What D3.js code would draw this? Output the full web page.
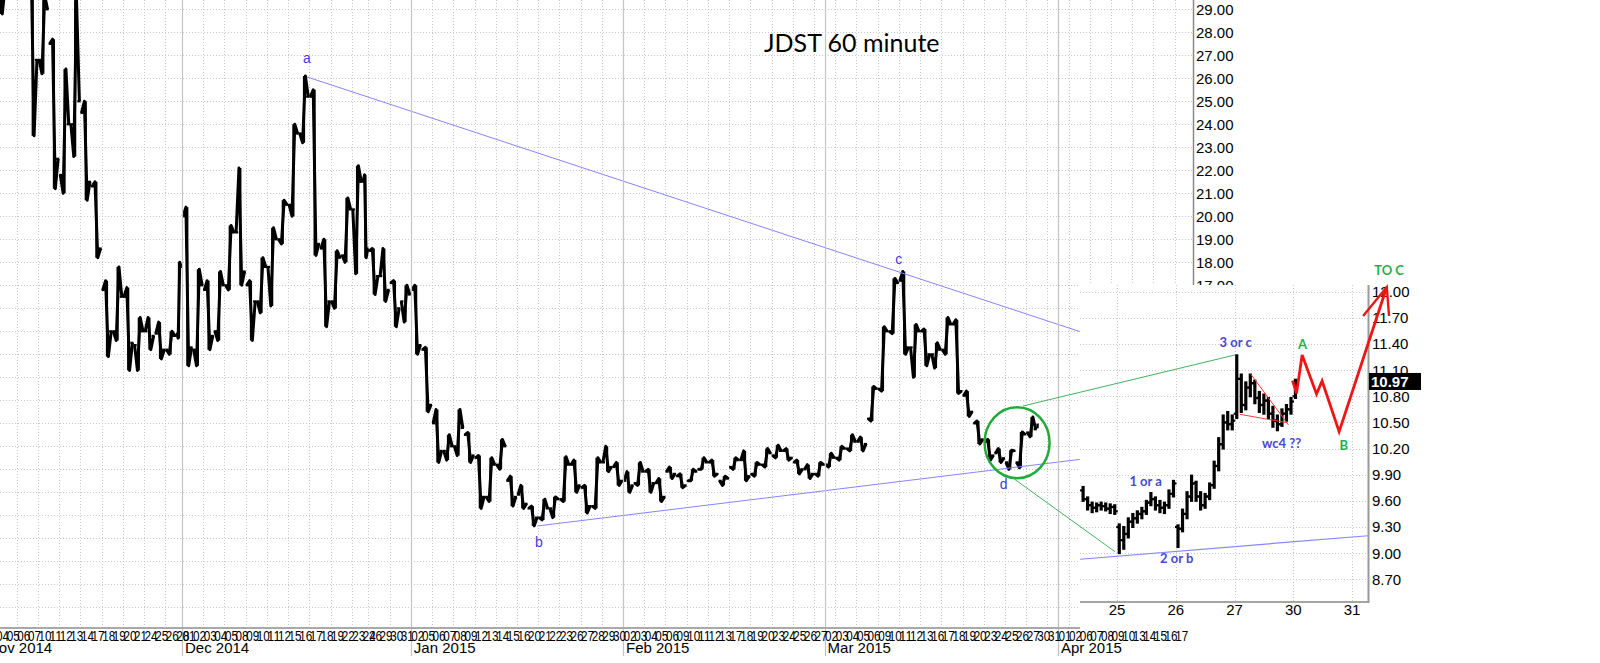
<!DOCTYPE html>
<html><head><meta charset="utf-8">
<script src="https://cdn.jsdelivr.net/npm/d3@7/dist/d3.min.js"></script>
<style>
html,body{margin:0;padding:0;background:#fff;overflow:hidden}
svg{display:block}
</style></head><body>
<svg id="chart" width="1600" height="663"></svg>
<script>
// ================= DATA =================
// trading days (tick labels of the main time axis)
const novDays = [3,4,5,6,7,10,11,12,13,14,17,18,19,20,21,24,25,26,28];
const decDays = [1,2,3,4,5,8,9,10,11,12,15,16,17,18,19,22,23,24,26,29,30,31];
const janDays = [2,5,6,7,8,9,12,13,14,15,16,20,21,22,23,26,27,28,29,30];
const febDays = [2,3,4,5,6,9,10,11,12,13,17,18,19,20,23,24,25,26,27];
const marDays = [2,3,4,5,6,9,10,11,12,13,16,17,18,19,20,23,24,25,26,27,30,31];
const aprDays = [1,2,6,7,8,9,10,13,14,15,16,17];
const monthLabels = ["Nov 2014","Dec 2014","Jan 2015","Feb 2015","Mar 2015","Apr 2015"];
const halfDays = [[0,28],[1,24]];          // [month index, day] shortened sessions
const mainPriceTicks = [17,18,19,20,21,22,23,24,25,26,27,28,29];

// daily [open, high, low, close]
const novBars = [
 [33.0,34.0,31.5,32.0],[31.5,32.0,28.8,30.0],[30.0,31.5,29.5,31.0],[31.0,32.5,29.8,30.5],
 [29.5,30.5,23.5,26.8],[26.8,29.6,26.2,29.0],[27.5,27.7,21.2,22.5],[21.8,26.4,21.0,24.0],
 [24.0,29.4,22.6,25.0],[24.5,25.0,20.7,21.5],[21.3,21.5,18.2,18.6],[16.8,17.2,13.9,15.0],
 [15.0,17.8,14.6,16.5],[16.5,16.9,13.3,14.5],[14.4,15.6,13.3,15.0],[15.0,15.6,14.2,14.8],
 [14.9,15.4,13.8,14.2],[14.2,15.0,14.0,14.8],[14.9,18.0,14.7,17.8]];
const decBars = [
 [20.0,20.4,13.5,14.3],[14.2,17.7,13.5,17.0],[16.8,17.2,14.2,14.8],[15.0,17.6,14.6,17.0],
 [17.0,19.6,16.8,19.3],[19.3,22.1,17.0,17.6],[17.0,17.2,14.6,16.3],[16.3,18.2,15.8,17.8],
 [17.8,19.5,16.1,19.0],[19.0,20.7,18.8,20.5],[20.5,24.0,20.0,23.6],[23.6,26.1,23.2,25.2],
 [25.2,25.5,18.3,18.8],[18.6,19.0,15.2,16.3],[16.3,18.5,16.0,18.2],[18.3,20.8,18.0,20.3],
 [20.3,22.2,17.5,21.5],[21.5,21.8,18.2,18.6],[18.5,18.6,16.6,17.4],[17.4,18.6,16.3,16.8],
 [17.1,17.2,15.2,16.0],[16.3,17.0,15.4,16.6]];
const janBars = [
 [16.8,17.0,14.0,14.4],[14.2,14.3,11.5,11.8],[11.0,11.6,9.3,9.8],[9.8,10.5,9.4,10.0],
 [10.0,11.6,9.6,10.8],[10.5,10.6,9.3,9.6],[9.5,9.6,7.3,7.8],[7.8,9.5,7.6,9.2],
 [9.2,10.3,9.0,10.0],[8.5,8.7,7.4,7.8],[7.9,8.3,7.3,7.5],[7.3,7.4,6.54,6.9],
 [6.9,7.7,6.8,7.3],[7.3,7.8,6.9,7.7],[7.7,9.55,7.6,9.2],[9.2,9.4,8.0,8.3],
 [8.2,8.3,7.1,7.4],[7.4,9.5,7.3,9.3],[9.3,10.0,8.9,9.1],[9.1,9.3,8.3,8.5]];
const febBars = [
 [8.5,8.9,8.0,8.3],[8.4,9.3,8.3,8.9],[8.9,9.0,8.0,8.4],[8.4,8.6,7.6,7.8],
 [8.9,9.1,8.6,8.8],[8.7,8.8,8.2,8.3],[8.5,9.0,8.5,8.9],[9.0,9.5,9.0,9.3],
 [9.3,9.4,8.7,8.8],[8.5,8.7,8.3,8.6],[9.1,9.5,9.0,9.4],[9.4,9.8,8.5,8.7],
 [8.8,9.3,8.7,9.2],[9.2,9.9,9.1,9.7],[9.6,10.05,9.5,9.8],[9.8,9.9,9.4,9.5],
 [9.3,9.4,8.8,9.0],[9.0,9.2,8.6,8.8],[8.8,9.3,8.7,9.2]];
const marBars = [
 [9.2,9.7,9.1,9.5],[9.5,10.0,9.4,9.9],[9.9,10.5,9.8,10.2],[10.2,10.4,9.8,10.1],
 [11.2,12.6,11.1,12.5],[12.5,15.2,12.4,15.0],[15.0,17.3,14.9,17.1],[17.2,17.6,14.0,14.3],
 [14.3,15.3,13.0,15.0],[15.0,15.1,13.5,14.0],[14.0,14.5,13.4,14.2],[14.2,15.6,14.0,15.3],
 [15.3,15.5,12.3,12.4],[12.2,12.4,11.3,11.5],[11.0,11.1,10.1,10.3],[10.2,10.3,9.4,9.6],
 [9.7,9.9,9.3,9.48],[9.3,9.83,9.0,9.8],[9.3,10.62,9.07,10.52],[10.6,11.27,10.41,10.74],
 [10.8,10.99,10.78,10.97]];
const lastDayBarsDrawn = 1;   // only the first hour of Mar 30 is on the chart

// inset (Mar 24 - Mar 30), half-hour [open, high, low, close]
const insetDayLabels = ["25","26","27","30","31"];
const insetPriceTicks = [8.70,9.00,9.30,9.60,9.90,10.20,10.50,10.80,11.10,11.40,11.70,12.00];
const insetMar24 = [
 [9.72,9.76,9.60,9.62],[9.62,9.64,9.50,9.55],[9.55,9.58,9.47,9.52],[9.52,9.57,9.48,9.55],
 [9.55,9.58,9.50,9.54],[9.54,9.57,9.49,9.51],[9.51,9.56,9.46,9.53],[9.53,9.55,9.45,9.48]];
const insetMar25 = [
 [9.30,9.33,9.00,9.15],[9.15,9.30,9.05,9.22],[9.22,9.40,9.18,9.36],[9.36,9.45,9.30,9.40],
 [9.40,9.48,9.35,9.45],[9.45,9.52,9.40,9.48],[9.48,9.60,9.45,9.58],[9.58,9.69,9.55,9.62],
 [9.62,9.64,9.50,9.55],[9.55,9.60,9.47,9.52],[9.52,9.58,9.46,9.55],[9.55,9.72,9.52,9.68],
 [9.68,9.83,9.65,9.80]];
const insetMar26 = [
 [9.30,9.32,9.07,9.28],[9.28,9.50,9.25,9.45],[9.45,9.70,9.40,9.65],[9.65,9.89,9.60,9.80],
 [9.80,9.82,9.60,9.65],[9.65,9.70,9.50,9.55],[9.55,9.68,9.52,9.65],[9.65,9.80,9.62,9.78],
 [9.78,10.05,9.75,10.00],[10.00,10.32,9.95,10.25],[10.25,10.58,10.20,10.50],[10.50,10.62,10.42,10.48],
 [10.48,10.58,10.42,10.52]];
const insetMar27 = [
 [10.60,11.27,10.55,11.00],[11.00,11.05,10.62,10.70],[10.70,10.96,10.65,10.90],[10.90,11.05,10.80,10.95],
 [10.95,10.98,10.72,10.78],[10.78,10.85,10.62,10.70],[10.70,10.82,10.60,10.75],[10.75,10.78,10.55,10.60],
 [10.60,10.68,10.45,10.52],[10.52,10.58,10.41,10.48],[10.48,10.65,10.46,10.60],[10.60,10.70,10.52,10.65],
 [10.65,10.78,10.60,10.74]];
const insetMar30 = [[10.80,10.99,10.78,10.97]];
const lastPrice = 10.97;

// annotations: main chart [bar index, price], inset [trading-day offset from Mar 25, price]
const upperTrend = [[212.45,26.06],[603,17.58]];
const lowerTrend = [[364.4,6.535],[722.35,9.43]];
const mainEdgeIdx = 722.35;
const waveLabels = [["a",212.45,26.06,-14],["b",365.5,6.535,21],["c",603,17.58,-8],["d",672.2,9.02,20]];
const circleCenter = [681.0,10.157];
const insetSupport = [[-0.629,8.93],[4.27,9.20]];
const wedgeUpper = [[2.279,11.052],[2.92,10.47]];
const wedgeLower = [[2.092,10.593],[2.896,10.497]];
const projection = [[2.988,10.979],[3.056,10.834],[3.151,11.274],[3.396,10.826],[3.491,10.975],[3.781,10.394],[4.592,12.054]];
const arrowBarbs = [[4.189,11.721],[4.592,12.054],[4.631,11.721]];
const connectUpper = {main:[684.95,11.753], inset:[2.007,11.274]};
const connectLower = {main:[678.2,8.622], inset:[-0.034,9.017]};
const insetBlueLabels = [["3 or c",2.019,11.42],["1 or a",0.488,9.82],["2 or b",1.015,8.936],["wc4 ??",2.801,10.26]];
const insetGreenLabels = [["A",3.158,11.39],["B",3.861,10.24],["TO C",4.631,12.24]];

// ================= DRAW =================
const svg = d3.select("#chart");
const AX = "Liberation Sans, Arial, sans-serif";
svg.append("rect").attr("width",1600).attr("height",663).attr("fill","#fff");

// calendar with bar-index positions
const allMonths = [novDays,decDays,janDays,febDays,marDays,aprDays];
const calendar = [];
let bi = 0;
allMonths.forEach((days,m)=>days.forEach((d,k)=>{
  const n = halfDays.some(h=>h[0]===m&&h[1]===d)?4:7;
  calendar.push({m,d,start:bi,n,monthStart:k===0});
  bi += n;
}));
const decIndex = calendar.findIndex(c=>c.m===1&&c.monthStart);

const xMain = d3.scaleLinear().domain([130,708]).range([182,1058]);
const yMain = d3.scaleLinear().domain([18,29]).range([262.3,9.3]);
const xInset = d3.scaleLinear().domain([0,4]).range([1117,1352]);
const yInset = d3.scaleLinear().domain([8.7,12.0]).range([579.3,291.7]);

const defs = svg.append("defs");
defs.append("clipPath").attr("id","clipMain").append("rect").attr("x",0).attr("y",0).attr("width",1193).attr("height",628);
defs.append("clipPath").attr("id","clipInset").append("rect").attr("x",1080).attr("y",285).attr("width",288).attr("height",317);

const grid = "#c9c9c9";
const mainG = svg.append("g");
const mc = mainG.append("g").attr("clip-path","url(#clipMain)");

// horizontal grid
mc.selectAll("line.hg").data(d3.range(3,31)).enter().append("line")
  .attr("x1",0).attr("x2",1193).attr("y1",d=>Math.round(yMain(d))+0.5).attr("y2",d=>Math.round(yMain(d))+0.5)
  .attr("stroke",grid).attr("stroke-dasharray","1,2");
// vertical grid (every other trading day)
mc.selectAll("line.vg").data(calendar.filter((c,i)=>!c.monthStart && (i-decIndex)%2===0)).enter().append("line")
  .attr("x1",d=>Math.round(xMain(d.start))+0.5).attr("x2",d=>Math.round(xMain(d.start))+0.5)
  .attr("y1",0).attr("y2",628).attr("stroke",grid).attr("stroke-dasharray","1,2");
// month separators
mainG.selectAll("line.ms").data(calendar.filter(c=>c.monthStart)).enter().append("line")
  .attr("x1",d=>Math.round(xMain(d.start))+0.5).attr("x2",d=>Math.round(xMain(d.start))+0.5)
  .attr("y1",0).attr("y2",656).attr("stroke","#c4c4c4").attr("stroke-width",1.2);

// price series
const mainBars = [].concat(novBars,decBars,janBars,febBars,marBars);
const line = d3.line();
const fr = [0.1,0.37,0.63,0.9];
mainBars.forEach((b,i)=>{
  const c = calendar[i];
  const isLast = i===mainBars.length-1;
  const n = isLast ? lastDayBarsDrawn : c.n;
  const x0 = xMain(c.start), x1 = xMain(c.start+n);
  if (isLast) {
    const xm = (x0+x1)/2;
    mc.append("path").attr("d",line([[xm,yMain(b[2])],[xm,yMain(b[1])]])).attr("stroke","#000").attr("stroke-width",2.4).attr("fill","none");
    return;
  }
  const [o,h,l,cl] = b;
  const seq = cl>=o ? [o,l,h,cl] : [o,h,l,cl];
  const pts = seq.map((v,k)=>[x0+(x1-x0)*fr[k], yMain(v)]);
  mc.append("path").attr("d",line(pts)).attr("stroke","#000").attr("stroke-width",3)
    .attr("fill","none").attr("stroke-linejoin","round");
  // high-low range of the session
  const xm = (x0+x1)/2;
  mc.append("line").attr("x1",xm).attr("x2",xm).attr("y1",yMain(h)).attr("y2",yMain(l))
    .attr("stroke","#000").attr("stroke-width",2.2);
  // open / close ticks
  mc.append("line").attr("x1",x0).attr("x2",x0+(x1-x0)*0.3).attr("y1",yMain(o)).attr("y2",yMain(o)).attr("stroke","#000").attr("stroke-width",2.2);
  mc.append("line").attr("x1",x0+(x1-x0)*0.7).attr("x2",x1).attr("y1",yMain(cl)).attr("y2",yMain(cl)).attr("stroke","#000").attr("stroke-width",2.2);
});

// trend lines
function extend(seg, xEnd){
  const [[i0,v0],[i1,v1]] = seg;
  const s = (v1-v0)/(i1-i0);
  return [[i0,v0],[xEnd, v0+s*(xEnd-i0)]];
}
const blue = "#8585ff";
[extend(upperTrend,mainEdgeIdx), lowerTrend].forEach(seg=>{
  mc.append("path").attr("d",line(seg.map(p=>[xMain(p[0]),yMain(p[1])])))
    .attr("stroke",blue).attr("stroke-width",1).attr("fill","none");
});
// wave labels
mainG.selectAll("text.wl").data(waveLabels).enter().append("text")
  .attr("x",d=>xMain(d[1])).attr("y",d=>yMain(d[2])+d[3]).attr("text-anchor","middle")
  .attr("font-family",AX).attr("font-size",14).attr("fill","#3d3dd8").text(d=>d[0]);
// circle
mainG.append("ellipse").attr("cx",xMain(circleCenter[0])).attr("cy",yMain(circleCenter[1]))
  .attr("rx",32.5).attr("ry",35.5).attr("fill","none").attr("stroke","#1faa3a").attr("stroke-width",2.5);

// axes main
mainG.append("line").attr("x1",0).attr("x2",1193).attr("y1",628).attr("y2",628).attr("stroke","#a9a9a9").attr("stroke-width",2);
mainG.append("line").attr("x1",1193.5).attr("x2",1193.5).attr("y1",0).attr("y2",628).attr("stroke","#8a8a8a").attr("stroke-width",1.5);
mainG.selectAll("text.yl").data(mainPriceTicks).enter().append("text")
  .attr("x",1196).attr("y",d=>yMain(d)).attr("dy","0.36em")
  .attr("font-family",AX).attr("font-size",15).attr("fill","#000").text(d=>d3.format(".2f")(d));
mainG.selectAll("text.dl").data(calendar).enter().append("text")
  .attr("x",d=>xMain(d.start)+0.5).attr("y",641)
  .attr("font-family",AX).attr("font-size",15).attr("fill","#000")
  .attr("textLength",13).attr("lengthAdjust","spacingAndGlyphs")
  .text(d=>String(d.d).padStart(2,"0"));
mainG.selectAll("text.ml").data(calendar.filter(c=>c.monthStart)).enter().append("text")
  .attr("x",d=>xMain(d.start)+3).attr("y",653)
  .attr("font-family",AX).attr("font-size",15).attr("fill","#000").text(d=>monthLabels[d.m]);

// title
svg.append("text").attr("x",764).attr("y",52).attr("font-family","Lato, 'Open Sans', sans-serif")
  .attr("font-size",25).attr("fill","#000").text("JDST 60 minute");

// ================= INSET =================
const ins = svg.append("g");
ins.append("rect").attr("x",1080).attr("y",285).attr("width",360).attr("height",345).attr("fill","#fff");
ins.selectAll("line.ihg").data(insetPriceTicks).enter().append("line")
  .attr("x1",1080).attr("x2",1368).attr("y1",d=>Math.round(yInset(d))+0.5).attr("y2",d=>Math.round(yInset(d))+0.5)
  .attr("stroke",grid).attr("stroke-dasharray","1,2");
ins.selectAll("line.ivg").data(d3.range(insetDayLabels.length)).enter().append("line")
  .attr("x1",d=>Math.round(xInset(d))+0.5).attr("x2",d=>Math.round(xInset(d))+0.5)
  .attr("y1",285).attr("y2",602).attr("stroke",grid).attr("stroke-dasharray","1,2");

const ic = ins.append("g").attr("clip-path","url(#clipInset)");
const slots = 13;
const insetSeries = [[-1,5,insetMar24],[0,0,insetMar25],[1,0,insetMar26],[2,0,insetMar27],[3,0,insetMar30]];
insetSeries.forEach(([day,s0,bars])=>{
  bars.forEach((b,k)=>{
    const x = xInset(day+(s0+k+0.5)/slots);
    const [o,h,l,c] = b;
    ic.append("line").attr("x1",x).attr("x2",x).attr("y1",yInset(h)-1).attr("y2",yInset(l)+1).attr("stroke","#000").attr("stroke-width",3.2);
    ic.append("line").attr("x1",x-3).attr("x2",x).attr("y1",yInset(o)).attr("y2",yInset(o)).attr("stroke","#000").attr("stroke-width",2.2);
    ic.append("line").attr("x1",x).attr("x2",x+3).attr("y1",yInset(c)).attr("y2",yInset(c)).attr("stroke","#000").attr("stroke-width",2.2);
  });
});
const li = p=>[xInset(p[0]),yInset(p[1])];
ic.append("path").attr("d",line(insetSupport.map(li))).attr("stroke",blue).attr("stroke-width",1.2).attr("fill","none");
[wedgeUpper,wedgeLower].forEach(seg=>ic.append("path").attr("d",line(seg.map(li))).attr("stroke","#ff3b3b").attr("stroke-width",1).attr("fill","none"));

// inset axes
ins.append("line").attr("x1",1080).attr("x2",1369).attr("y1",602).attr("y2",602).attr("stroke","#a5a5a5").attr("stroke-width",2);
ins.append("line").attr("x1",1368.5).attr("x2",1368.5).attr("y1",285).attr("y2",603).attr("stroke","#9a9a9a").attr("stroke-width",2);
ins.selectAll("text.iyl").data(insetPriceTicks).enter().append("text")
  .attr("x",1372).attr("y",d=>yInset(d)).attr("dy","0.36em")
  .attr("font-family",AX).attr("font-size",15).attr("fill","#000").text(d=>d3.format(".2f")(d));
ins.selectAll("text.ixl").data(insetDayLabels).enter().append("text")
  .attr("x",(d,i)=>xInset(i)).attr("y",615).attr("text-anchor","middle")
  .attr("font-family",AX).attr("font-size",15).attr("fill","#000").text(d=>d);
ins.append("rect").attr("x",1369).attr("y",yInset(lastPrice)-8.5).attr("width",52).attr("height",17).attr("fill","#000");
ins.append("text").attr("x",1371).attr("y",yInset(lastPrice)).attr("dy","0.36em")
  .attr("font-family",AX).attr("font-size",15).attr("font-weight","bold").attr("fill","#fff").text(d3.format(".2f")(lastPrice));

// red projection
const ann = svg.append("g");
ann.append("path").attr("d",line(projection.map(li))).attr("stroke","#f01414").attr("stroke-width",2.8).attr("fill","none").attr("stroke-linejoin","miter");
ann.append("path").attr("d",line(arrowBarbs.map(li))).attr("stroke","#f01414").attr("stroke-width",2.4).attr("fill","none");

// green connectors
[connectUpper,connectLower].forEach(cn=>{
  ann.append("line").attr("x1",xMain(cn.main[0])).attr("y1",yMain(cn.main[1]))
    .attr("x2",xInset(cn.inset[0])).attr("y2",yInset(cn.inset[1]))
    .attr("stroke","#47b25f").attr("stroke-width",1);
});

// labels
ann.selectAll("text.ib").data(insetBlueLabels).enter().append("text")
  .attr("x",d=>xInset(d[1])).attr("y",d=>yInset(d[2])).attr("dy","0.35em").attr("text-anchor","middle")
  .attr("font-family","Lato, 'Open Sans', sans-serif").attr("font-weight","bold").attr("font-size",13)
  .attr("fill","#4848d4").text(d=>d[0]);
ann.selectAll("text.ig").data(insetGreenLabels).enter().append("text")
  .attr("x",d=>xInset(d[1])).attr("y",d=>yInset(d[2])).attr("dy","0.35em").attr("text-anchor","middle")
  .attr("font-family","Lato, 'Open Sans', sans-serif").attr("font-weight","bold").attr("font-size",13)
  .attr("fill","#1fb24a").text(d=>d[0]);
</script>
</body></html>
